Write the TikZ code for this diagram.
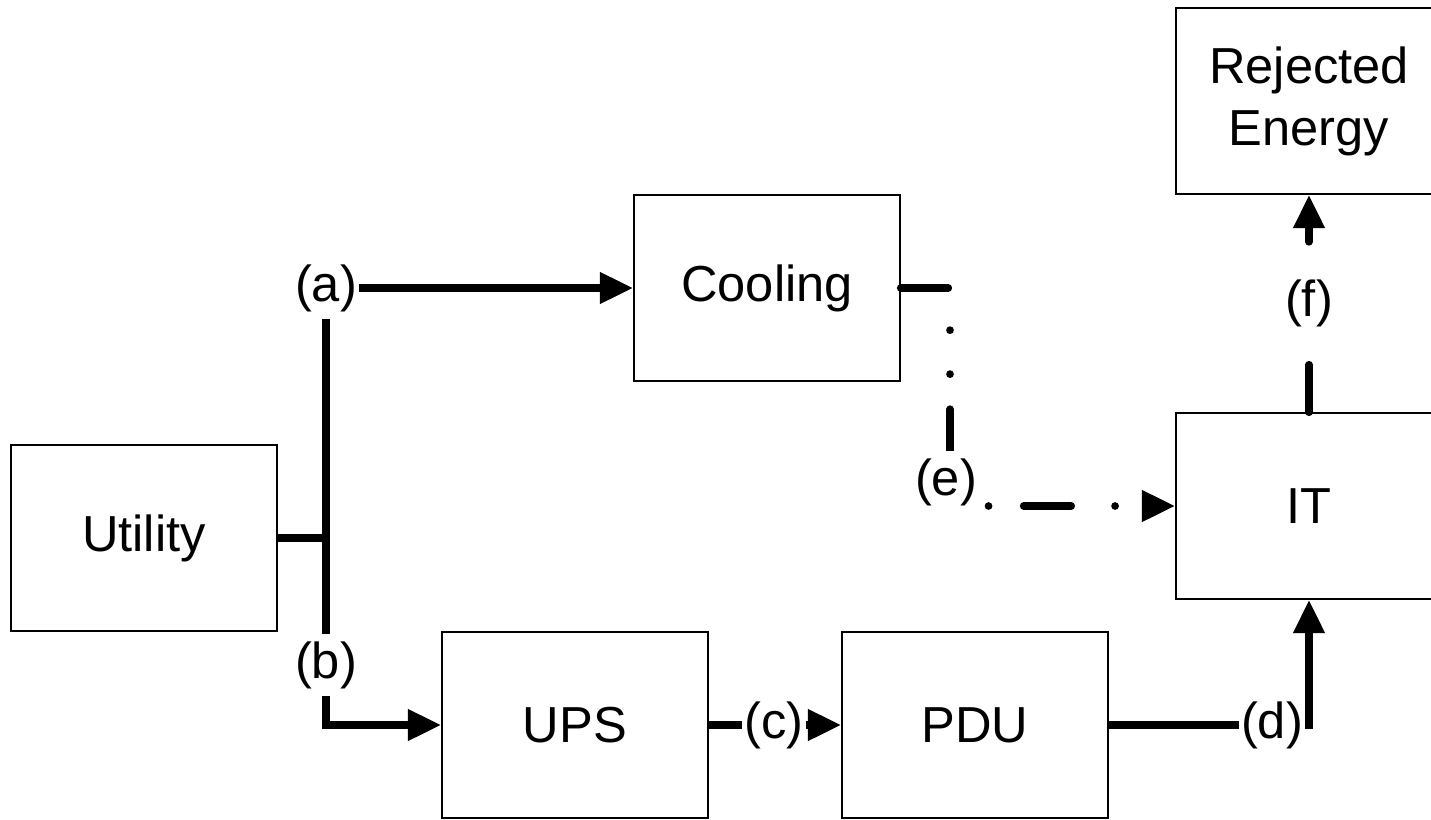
\documentclass[tikz,border=0pt]{standalone}
\usepackage{fontspec}
\setmainfont{Liberation Sans}
\usetikzlibrary{arrows.meta}
\begin{document}
\begin{tikzpicture}[x=0.1mm,y=-0.1mm,>={Triangle[length=9.5pt,width=8.5pt]},
    box/.style={draw,line width=0.45pt,minimum width=26.6mm,minimum height=18.6mm,inner sep=0pt,align=center,font=\fontsize{14.4}{17.6}\selectfont},
    lab/.style={inner xsep=0.5pt,inner ysep=2pt,fill=white,font=\fontsize{14.4}{17.6}\selectfont},
    flow/.style={line width=2.2pt},
    dashdot/.style={flow,line cap=round,dash pattern=on 13.5pt off 12.5pt on 0pt off 12.5pt on 0pt off 10pt}]
    \useasboundingbox (0,0) rectangle (1431,819);
    \clip (0,0) rectangle (1431,819);
    % Các khối
    \node[box] (util) at (144,538) {Utility};
    \node[box] (cool) at (767,288) {Cooling};
    \node[box] (ups) at (575,725) {UPS};
    \node[box] (pdu) at (975,725) {PDU};
    \node[box] (it) at (1309,506) {IT};
    \node[box] (rej) at (1309,101) {Rejected\\Energy};
    % Các nhãn
    \node[lab] (la) at (326,288) {(a)};
    \node[lab] (lb) at (326,665) {(b)};
    \node[lab] (lc) at (774,725) {(c)};
    \node[lab] (ld) at (1272,725) {(d)};
    \coordinate (jn) at (326,538);
    \coordinate (ec) at (950,506);
    % Các đường nối
    \draw[flow] (util.east) -- (jn);
    \draw[flow] (la) -- (lb);
    \draw[flow,->] (la) -- (cool);
    \draw[flow,->] (lb) |- (ups);
    \draw[flow] (ups) -- (lc);
    \draw[flow,->] (lc) -- (pdu);
    \draw[flow] (pdu) -- (ld);
    \draw[flow,->] (ld.east) -| (it);
    \draw[dashdot,->] (cool.east) -| (ec) -- (it.west);
    \node[lab] (le) at (946,482) {(e)};
    \draw[dashdot,->] (it.north) -- node[lab] (lf) {(f)} (rej.south);
\end{tikzpicture}
\end{document}
